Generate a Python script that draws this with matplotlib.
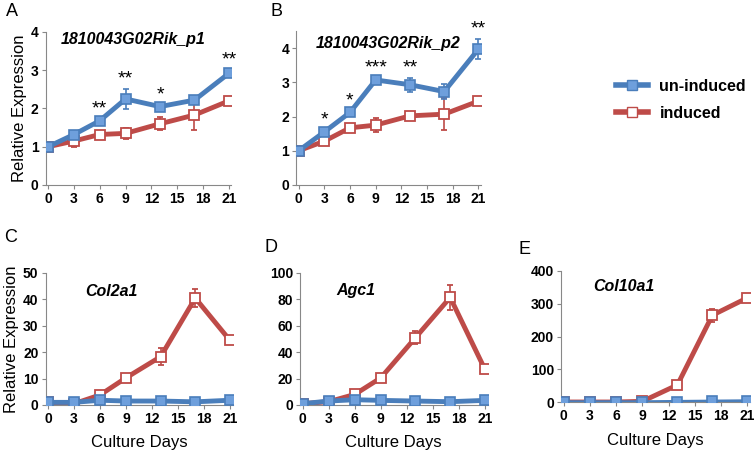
import matplotlib
matplotlib.use("Agg")
import matplotlib.pyplot as plt
from matplotlib.lines import Line2D

plt.rcParams["font.family"] = ["Liberation Sans", "DejaVu Sans"]

# --- Data ------------------------------------------------------------------
days = [0, 3, 6, 9, 13, 17, 21]
xticks = [0, 3, 6, 9, 12, 15, 18, 21]

# A: 1810043G02Rik_p1
a_un = [1.0, 1.32, 1.68, 2.25, 2.05, 2.22, 2.92]
a_un_err = [0.03, 0.05, 0.06, 0.27, 0.05, 0.05, 0.10]
a_ind = [1.0, 1.15, 1.32, 1.35, 1.60, 1.83, 2.20]
a_ind_err = [0.03, 0.15, 0.06, 0.15, 0.17, 0.38, 0.10]
a_stars = ["", "", "**", "**", "*", "", "**"]

# B: 1810043G02Rik_p2
b_un = [1.0, 1.55, 2.12, 3.07, 2.93, 2.73, 3.97]
b_un_err = [0.03, 0.05, 0.06, 0.05, 0.20, 0.22, 0.30]
b_ind = [1.0, 1.28, 1.67, 1.75, 2.02, 2.07, 2.45]
b_ind_err = [0.03, 0.05, 0.12, 0.20, 0.05, 0.47, 0.10]
b_stars = ["", "*", "*", "***", "**", "", "**"]

# C: Col2a1
c_un = [1.0, 1.0, 1.8, 1.5, 1.5, 1.2, 1.8]
c_ind = [1.0, 0.5, 3.8, 10.3, 18.3, 40.5, 24.5]
c_ind_err = [0.2, 0.2, 0.5, 0.5, 3.3, 3.5, 0.8]

# D: Agc1
d_un = [1.0, 3.0, 4.0, 3.5, 3.0, 2.5, 3.5]
d_ind = [1.0, 2.5, 8.0, 20.5, 51.0, 81.5, 27.0]
d_ind_err = [0.3, 0.3, 1.0, 1.0, 5.0, 9.5, 1.0]

# E: Col10a1
e_un = [0.0, 0.0, 0.0, 0.0, 1.0, 2.0, 3.0]
e_ind = [0.0, 0.0, 0.0, 2.0, 52.0, 265.0, 318.0]
e_ind_err = [0.0, 0.0, 0.0, 1.0, 3.0, 20.0, 4.0]

BLUE = "#4a7ebb"
BLUE_FACE = "#6e9fdc"
RED = "#be4b48"
W, H = 755, 454


def box(left, right, top, bottom):
    return [left / W, 1 - bottom / H, (right - left) / W, (bottom - top) / H]


def panel(rect, un, ind, ylim, yticks, title, tpos, letter, lpos,
          un_err=None, ind_err=None, stars=None, ylabel=False, xlabel_y=None,
          blue_lw=3.5):
    ax = fig.add_axes(rect)
    ax.errorbar(days, ind, yerr=ind_err, color=RED, lw=3.5, marker="s", ms=7.5,
                mfc="white", mec=RED, mew=1.3, ecolor=RED, elinewidth=1.2,
                capsize=2.5, zorder=2)
    ax.errorbar(days, un, yerr=un_err, color=BLUE, lw=blue_lw, marker="s", ms=7.5,
                mfc=BLUE_FACE, mec=BLUE, mew=1.2, ecolor=BLUE, elinewidth=1.2,
                capsize=2.5, zorder=3)
    if stars:
        for x, y, e, s in zip(days, un, un_err, stars):
            if s:
                ax.annotate(s, (x, y + e), xytext=(0, 1), textcoords="offset points",
                            ha="center", va="bottom", fontsize=14)
    ax.set_xlim(-0.3, 21.3)
    ax.set_ylim(*ylim)
    ax.set_xticks(xticks)
    ax.set_yticks(yticks)
    ax.tick_params(labelsize=10, length=3, color="#888888", pad=2)
    for lab in ax.get_xticklabels() + ax.get_yticklabels():
        lab.set_fontweight("bold")
    for s in ["top", "right"]:
        ax.spines[s].set_visible(False)
    for s in ["left", "bottom"]:
        ax.spines[s].set_color("#888888")
        ax.spines[s].set_linewidth(0.8)
    ax.text(tpos[0], tpos[1], title, transform=ax.transAxes, ha="center",
            va="center", fontsize=11.5, fontweight="bold", style="italic")
    fig.text(lpos[0] / W, 1 - lpos[1] / H, letter, fontsize=13, ha="left", va="center")
    if ylabel:
        ax.set_ylabel("Relative Expression", fontsize=12, labelpad=3)
    if xlabel_y is not None:
        # place the axis title at a fixed pixel height
        pos = ax.get_position()
        fig.text(pos.x0 + pos.width / 2, 1 - xlabel_y / H, "Culture Days",
                 fontsize=12, ha="center", va="center")
    return ax


fig = plt.figure(figsize=(7.55, 4.54), dpi=100)

panel(box(45.5, 231.5, 32, 185), a_un, a_ind, (0, 4), [0, 1, 2, 3, 4],
      "1810043G02Rik_p1", (0.47, 0.95), "A", (6, 12),
      un_err=a_un_err, ind_err=a_ind_err, stars=a_stars, ylabel=True)
panel(box(296, 481, 31, 185), b_un, b_ind, (0, 4.5), [0, 1, 2, 3, 4],
      "1810043G02Rik_p2", (0.50, 0.92), "B", (271, 12),
      un_err=b_un_err, ind_err=b_ind_err, stars=b_stars)
panel(box(45.5, 232.5, 273, 405), c_un, c_ind, (0, 50), [0, 10, 20, 30, 40, 50],
      "Col2a1", (0.35, 0.86), "C", (4, 238),
      ind_err=c_ind_err, ylabel=True, xlabel_y=443)
panel(box(300, 487.5, 273, 405), d_un, d_ind, (0, 100), [0, 20, 40, 60, 80, 100],
      "Agc1", (0.30, 0.87), "D", (264, 247),
      ind_err=d_ind_err, xlabel_y=443)
panel(box(561, 750, 271, 402), e_un, e_ind, (0, 400), [0, 100, 200, 300, 400],
      "Col10a1", (0.33, 0.885), "E", (519, 250),
      ind_err=e_ind_err, xlabel_y=441, blue_lw=2.5)

handles = [
    Line2D([], [], color=BLUE, lw=4, marker="s", ms=7, mfc=BLUE_FACE, mec=BLUE),
    Line2D([], [], color=RED, lw=4, marker="s", ms=7, mfc="white", mec=RED),
]
fig.legend(handles, ["un-induced", "induced"], loc="center left",
           bbox_to_anchor=(602 / W, 1 - 100 / H), frameon=False, handlelength=2.0,
           prop={"weight": "bold", "size": 11.5}, labelspacing=0.75, handletextpad=0.7)

fig.savefig("out.png", dpi=100)
